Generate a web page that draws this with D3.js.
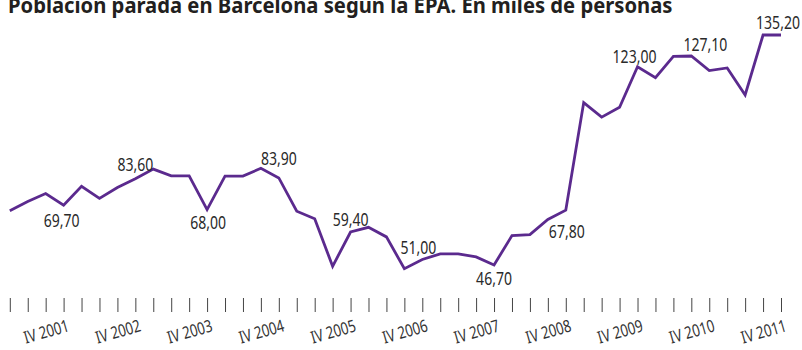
<!DOCTYPE html>
<html>
<head>
<meta charset="utf-8">
<script src="https://cdn.jsdelivr.net/npm/d3@7"></script>
<style>
  html, body { margin: 0; padding: 0; background: #fff; }
  svg { display: block; }
  text { font-family: "Noto Sans", "Open Sans", "DejaVu Sans Condensed", sans-serif; }
</style>
</head>
<body>
<svg id="chart" width="802" height="350"></svg>
<script>
// Quarterly unemployed population in Barcelona (EPA), thousands of people, I 2001 – IV 2011
const quarters = [];
for (let y = 2001; y <= 2011; y++) for (const q of ["I", "II", "III", "IV"]) quarters.push(q + " " + y);

const unemployed = [
  67.6, 71.1, 74.2, 69.7,
  77.0, 72.3, 76.5, 79.9,
  83.6, 81.0, 81.0, 68.0,
  80.9, 80.9, 83.9, 80.2,
  67.4, 64.5, 46.2, 59.4,
  61.2, 57.5, 45.3, 48.8,
  51.0, 51.0, 49.8, 46.7,
  58.0, 58.4, 64.2, 67.8,
  109.2, 103.6, 107.4, 123.0,
  118.8, 127.0, 127.1, 121.5,
  122.5, 112.1, 135.2, 135.2
];

// Quarters whose value is written on the chart
const labelledQuarters = ["IV 2001", "I 2003", "IV 2003", "III 2004", "IV 2005", "I 2007", "IV 2007", "IV 2008", "IV 2009", "III 2010", "IV 2011"];

// Axis labels shown (one per year, fourth quarter)
const tickLabels = ["IV 2001", "IV 2002", "IV 2003", "IV 2004", "IV 2005", "IV 2006", "IV 2007", "IV 2008", "IV 2009", "IV 2010", "IV 2011"];

const titleText = "Población parada en Barcelona según la EPA. En miles de personas";

// Placement of each value label around its point
const labelPlacement = {
  "IV 2001":  { anchor: "middle", dx: -2, dy: 22 },
  "I 2003":   { anchor: "end",    dx: 0,  dy: 2 },
  "IV 2003":  { anchor: "middle", dx: 1,  dy: 19 },
  "III 2004": { anchor: "start",  dx: 0,  dy: -3 },
  "IV 2005":  { anchor: "middle", dx: 0,  dy: -6 },
  "I 2007":   { anchor: "end",    dx: -4, dy: 0 },
  "IV 2007":  { anchor: "middle", dx: 0,  dy: 20 },
  "IV 2008":  { anchor: "middle", dx: 1,  dy: 28 },
  "IV 2009":  { anchor: "middle", dx: -3, dy: -4 },
  "III 2010": { anchor: "middle", dx: 14, dy: -5 },
  "IV 2011":  { anchor: "middle", dx: -3, dy: -6 }
};

const data = quarters.map((q, i) => ({ q, v: unemployed[i] }));
const fmt = v => v.toFixed(2).replace(".", ",");
const NARROW = 0.78; // horizontal squeeze giving a condensed face

const svg = d3.select("#chart");

const x = d3.scalePoint().domain(quarters).range([9.8, 781]);
const y = d3.scaleLinear().domain([40, 140]).range([282.4, 22.5]);

// Title (bold, condensed, running off the top edge)
const title = svg.append("text")
  .attr("font-weight", "bold")
  .attr("font-size", 21.5)
  .attr("fill", "#231f20")
  .text(titleText);
const tw = title.node().getComputedTextLength();
title.attr("transform", `translate(8,12.5) scale(${665 / tw},1)`);

// Bottom axis: a small tick per quarter, year labels rotated
const axis = d3.axisBottom(x)
  .tickSize(14)
  .tickFormat(d => tickLabels.includes(d) ? d : "");
const gAxis = svg.append("g").attr("transform", "translate(0,298)").call(axis);
gAxis.select(".domain").remove();
gAxis.selectAll(".tick line").attr("stroke", "#444").attr("stroke-width", 1);
gAxis.selectAll(".tick text")
  .attr("font-size", 17)
  .attr("font-family", "Noto Sans, Open Sans, sans-serif")
  .attr("fill", "#333")
  .attr("text-anchor", "end")
  .attr("y", 0).attr("dy", 0)
  .attr("transform", `translate(6,33) rotate(-16) scale(${NARROW},1)`);

// Series line
const line = d3.line().x(d => x(d.q)).y(d => y(d.v));
svg.append("path")
  .datum(data)
  .attr("fill", "none")
  .attr("stroke", "#5b2a8e")
  .attr("stroke-width", 2.8)
  .attr("stroke-linejoin", "miter")
  .attr("d", line);

// Value labels
svg.append("g").selectAll("text")
  .data(data.filter(d => labelledQuarters.includes(d.q)))
  .join("text")
  .attr("transform", d => `translate(${x(d.q) + labelPlacement[d.q].dx},${y(d.v) + labelPlacement[d.q].dy}) scale(${NARROW},1)`)
  .attr("text-anchor", d => labelPlacement[d.q].anchor)
  .attr("font-size", 18)
  .attr("fill", "#2a2a2a")
  .text(d => fmt(d.v));
</script>
</body>
</html>
